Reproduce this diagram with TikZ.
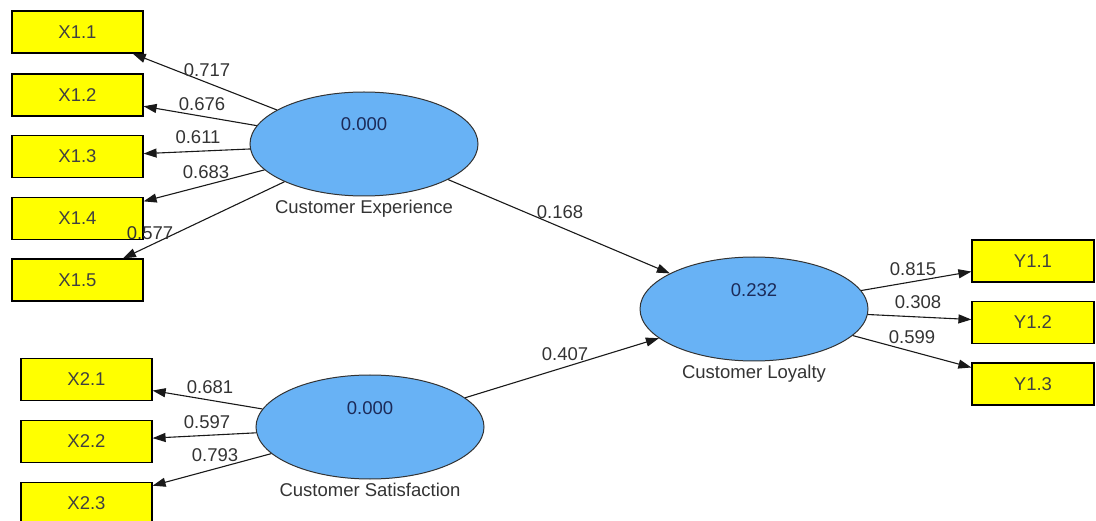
\documentclass[tikz,border=0pt]{standalone}
\usepackage{fontspec}
\setmainfont{Liberation Sans}
\usetikzlibrary{arrows.meta,positioning,shapes.geometric}

\definecolor{latentblue}{RGB}{104,178,245}
\definecolor{itemyellow}{RGB}{255,255,0}
\definecolor{valnavy}{RGB}{28,42,88}

\begin{document}
\begin{tikzpicture}[
  x=1pt, y=-1pt,
  font=\fontsize{18.5}{21}\selectfont,
  item/.style={draw, line width=1.2pt, fill=itemyellow, text=black!75, minimum width=131pt, minimum height=42pt, inner sep=0pt},
  latent/.style={ellipse, draw=black!80, line width=1pt, fill=latentblue, minimum width=228pt, minimum height=104pt, inner sep=0pt},
  rsq/.style={text=valnavy},
  lvname/.style={text=black!80},
  load/.style={text=black!80, inner sep=1pt},
  link/.style={-{Triangle[length=13pt,width=9pt]}, line width=1.1pt, draw=black!90}
]

\clip (0,0) rectangle (1096,521);

\node[latent] (ce) at (364,144) {};
\node[latent] (cl) at (754,309) {};
\node[latent] (cs) at (370,427) {};

\node[rsq] (ceval) at ([yshift=20pt]ce.center) {0.000};
\node[rsq] (clval) at ([yshift=19pt]cl.center) {0.232};
\node[rsq] (csval) at ([yshift=19pt]cs.center) {0.000};

\node[lvname, below=0pt of ce] (cename) {Customer Experience};
\node[lvname, below=0pt of cl] (clname) {Customer Loyalty};
\node[lvname, below=0pt of cs] (csname) {Customer Satisfaction};

\node[item] (x11) at (77.5,32) {X1.1};
\node[item] (x12) at (77.5,95) {X1.2};
\node[item] (x13) at (77.5,156.5) {X1.3};
\node[item] (x14) at (77.5,218.5) {X1.4};
\node[item] (x15) at (77.5,280) {X1.5};

\node[item] (x21) at (86.5,379.5) {X2.1};
\node[item] (x22) at (86.5,441.5) {X2.2};
\node[item] (x23) at (86.5,503.5) {X2.3};

\node[item, minimum width=122pt] (y11) at (1033,261) {Y1.1};
\node[item, minimum width=122pt] (y12) at (1033,322.5) {Y1.2};
\node[item, minimum width=122pt] (y13) at (1033,384) {Y1.3};

\draw[link] (ce) -- (x11);
\draw[link] (ce) -- (x12);
\draw[link] (ce) -- (x13);
\draw[link] (ce) -- (x14);
\draw[link] (ce) -- (x15);

\draw[link] (cs) -- (x21);
\draw[link] (cs) -- (x22);
\draw[link] (cs) -- (x23);

\draw[link] (ce) -- (cl);
\draw[link] (cs) -- (cl);

\draw[link] (cl) -- (y11);
\draw[link] (cl) -- (y12);
\draw[link] (cl) -- (y13);

\node[load] (lx11) at (207,70) {0.717};
\node[load] (lx12) at (202,104) {0.676};
\node[load] (lx13) at (198,137) {0.611};
\node[load] (lx14) at (206,172) {0.683};
\node[load] (lx15) at (150,233) {0.577};

\node[load] (lx21) at (210,387) {0.681};
\node[load] (lx22) at (207,422) {0.597};
\node[load] (lx23) at (215,455) {0.793};

\node[load] (pce) at (560,212) {0.168};
\node[load] (pcs) at (565,354) {0.407};

\node[load] (ly11) at (913,269) {0.815};
\node[load] (ly12) at (918,302) {0.308};
\node[load] (ly13) at (912,337) {0.599};

\end{tikzpicture}
\end{document}
